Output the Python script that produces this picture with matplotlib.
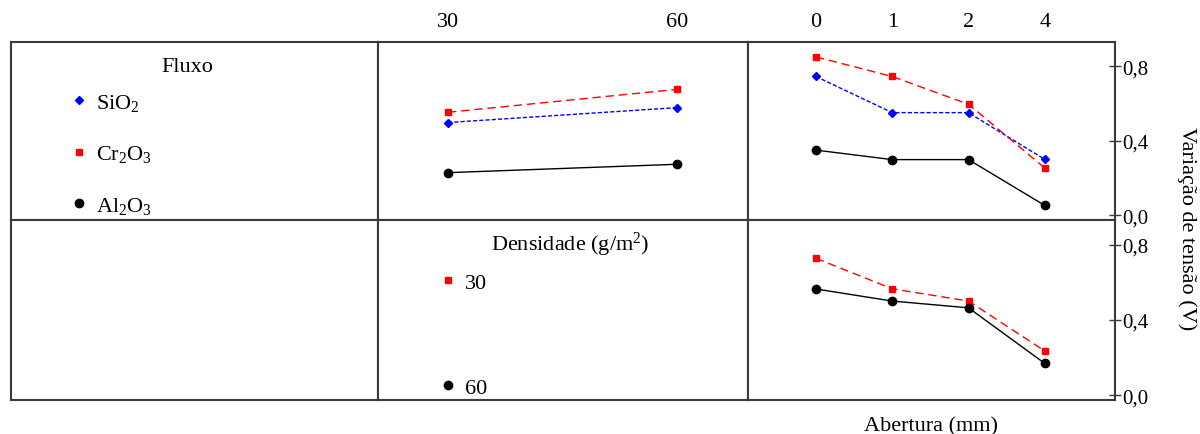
import matplotlib.pyplot as plt
from matplotlib.lines import Line2D

plt.rcParams['font.family'] = ['Liberation Serif', 'DejaVu Serif']
plt.rcParams['mathtext.fontset'] = 'custom'
plt.rcParams['mathtext.rm'] = 'Liberation Serif'
plt.rcParams['mathtext.it'] = 'Liberation Serif:italic'

# data
densidade = ['30', '60']
abertura = ['0', '1', '2', '4']
fluxos = ['SiO$_2$', 'Cr$_2$O$_3$', 'Al$_2$O$_3$']

# Fluxo x Densidade
sio2_dens = [0.498, 0.578]
cr2o3_dens = [0.553, 0.676]
al2o3_dens = [0.229, 0.274]

# Fluxo x Abertura
sio2_ab = [0.745, 0.551, 0.551, 0.300]
cr2o3_ab = [0.850, 0.745, 0.596, 0.254]
al2o3_ab = [0.350, 0.299, 0.299, 0.053]

# Densidade x Abertura
d30_ab = [0.727, 0.565, 0.500, 0.235]
d60_ab = [0.564, 0.500, 0.464, 0.169]

yticks = [0.0, 0.4, 0.8]
ytick_labels = ['0,0', '0,4', '0,8']

# styles per series
sty_sio2 = dict(color='#0000ff', marker='D', markersize=4.5, lw=1, dashes=(3, 1.5))
sty_cr = dict(color='#ff0000', marker='s', markersize=4.5, lw=1, dashes=(6, 3.5))
sty_al = dict(color='black', marker='o', markersize=6, lw=1, ls='-')

W, H = 1200, 435
fig = plt.figure(figsize=(12, 4.35), dpi=100)

cols = [(11, 378), (378, 748), (748, 1115)]
rows = [(43, 221), (221, 401)]
edge = '#3a3a3a'
fs = 16


def make_ax(c, r):
    x0, x1 = cols[c]
    y0, y1 = rows[r]
    ax = fig.add_axes([x0 / W, 1 - y1 / H, (x1 - x0) / W, (y1 - y0) / H])
    for s in ax.spines.values():
        s.set_color(edge)
        s.set_linewidth(1.5)
    ax.set_xticks([])
    ax.set_yticks([])
    return ax


ylim = (-0.025, 0.93)

# top-left: Fluxo legend
ax = make_ax(0, 0)
ax.text(0.48, 0.86, 'Fluxo', transform=ax.transAxes, ha='center', va='center', fontsize=fs)
handles = [Line2D([], [], color=sty_sio2['color'], marker='D', markersize=4.5, ls='none'),
           Line2D([], [], color=sty_cr['color'], marker='s', markersize=4.5, ls='none'),
           Line2D([], [], color=sty_al['color'], marker='o', markersize=6, ls='none')]
ax.legend(handles, fluxos, loc='upper left', bbox_to_anchor=(0.17, 0.72), frameon=False,
          fontsize=fs, handlelength=0.5, handletextpad=0.5, labelspacing=1.37,
          borderaxespad=0, borderpad=0)

# top-middle: Fluxo x Densidade
ax = make_ax(1, 0)
xd = range(len(densidade))
ax.plot(xd, sio2_dens, **sty_sio2)
ax.plot(xd, cr2o3_dens, **sty_cr)
ax.plot(xd, al2o3_dens, **sty_al)
ax.set_xlim(-0.306, 1.31)
ax.set_ylim(*ylim)
ax.set_xticks(list(xd))
ax.set_xticklabels(densidade, fontsize=fs)
ax.xaxis.tick_top()
ax.tick_params(axis='x', length=0, pad=8)

# top-right: Fluxo x Abertura
ax = make_ax(2, 0)
xa = range(len(abertura))
ax.plot(xa, sio2_ab, **sty_sio2)
ax.plot(xa, cr2o3_ab, **sty_cr)
ax.plot(xa, al2o3_ab, **sty_al)
ax.set_xlim(-0.89, 3.92)
ax.set_ylim(*ylim)
ax.set_xticks(list(xa))
ax.set_xticklabels(abertura, fontsize=fs)
ax.xaxis.tick_top()
ax.tick_params(axis='x', length=0, pad=8)
ax.yaxis.tick_right()
ax.set_yticks(yticks)
ax.set_yticklabels(ytick_labels, fontsize=15)
ax.tick_params(axis='y', direction='inout', length=9, width=1, color=edge, pad=1)

# bottom-left: empty
make_ax(0, 1)

# bottom-middle: Densidade legend
ax = make_ax(1, 1)
ax.text(0.52, 0.87, 'Densidade (g/m$^2$)', transform=ax.transAxes, ha='center', va='center',
        fontsize=fs)
handles = [Line2D([], [], color=sty_cr['color'], marker='s', markersize=4.5, ls='none'),
           Line2D([], [], color=sty_al['color'], marker='o', markersize=6, ls='none')]
ax.legend(handles, densidade, loc='upper left', bbox_to_anchor=(0.175, 0.708), frameon=False,
          fontsize=fs, handlelength=0.5, handletextpad=0.5, labelspacing=3.79,
          borderaxespad=0, borderpad=0)

# bottom-right: Densidade x Abertura
ax = make_ax(2, 1)
ax.plot(xa, d30_ab, **sty_cr)
ax.plot(xa, d60_ab, **sty_al)
ax.set_xlim(-0.89, 3.92)
ax.set_ylim(*ylim)
ax.yaxis.tick_right()
ax.set_yticks(yticks)
ax.set_yticklabels(ytick_labels, fontsize=15)
ax.tick_params(axis='y', direction='inout', length=9, width=1, color=edge, pad=1)
ax.set_xlabel('Abertura (mm)', fontsize=fs, labelpad=12)

fig.text(1187 / W, 1 - 229 / H, 'Variação de tensão (V)', rotation=270, ha='center', va='center',
         fontsize=fs)

fig.savefig('out.png', dpi=100)
